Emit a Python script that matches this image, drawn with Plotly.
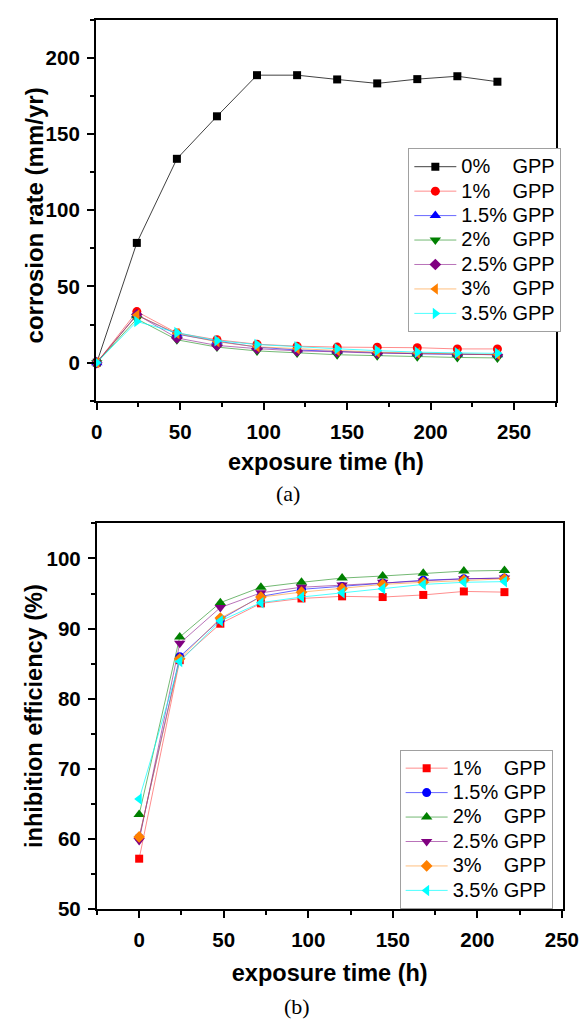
import plotly.graph_objects as go

# ---------------- data ----------------
time_a = [0, 24, 48, 72, 96, 120, 144, 168, 192, 216, 240]
labels = ["0%", "1%", "1.5%", "2%", "2.5%", "3%", "3.5%"]
cr_0 = [0, 78.6, 133.8, 161.7, 188.7, 188.7, 185.9, 183.3, 186.1, 188.0, 184.4]
cr_1 = [0, 33.5, 19.5, 15.0, 12.1, 10.8, 10.2, 10.1, 9.8, 9.0, 9.0]
cr_15 = [0, 31.3, 18.7, 14.1, 10.2, 8.3, 7.4, 6.4, 5.8, 5.5, 5.2]
cr_2 = [0, 28.7, 15.0, 10.2, 7.7, 6.4, 5.2, 4.6, 3.9, 3.4, 3.1]
cr_25 = [0, 31.6, 16.2, 11.3, 9.2, 7.7, 7.1, 6.2, 6.0, 5.5, 5.2]
cr_3 = [0, 31.2, 19.1, 13.7, 10.4, 9.1, 8.0, 6.8, 6.3, 5.8, 5.3]
cr_35 = [0, 27.0, 19.7, 14.4, 11.9, 10.4, 9.1, 7.9, 6.9, 6.4, 6.1]

time_b = [0, 24, 48, 72, 96, 120, 144, 168, 192, 216]
ie_1 = [57.2, 85.5, 90.7, 93.6, 94.3, 94.6, 94.5, 94.8, 95.3, 95.2]
ie_15 = [60.2, 86.0, 91.3, 94.6, 95.6, 96.0, 96.5, 96.9, 97.1, 97.2]
ie_2 = [63.5, 88.8, 93.7, 95.9, 96.6, 97.2, 97.5, 97.9, 98.2, 98.3]
ie_25 = [59.8, 87.9, 93.0, 95.1, 95.9, 96.2, 96.6, 96.8, 97.1, 97.2]
ie_3 = [60.3, 85.7, 91.5, 94.5, 95.2, 95.7, 96.3, 96.6, 96.9, 97.1]
ie_35 = [65.7, 85.3, 91.1, 93.7, 94.5, 95.1, 95.7, 96.3, 96.6, 96.7]

x_ticks = [0, 50, 100, 150, 200, 250]
y_ticks_a = [0, 50, 100, 150, 200]
y_ticks_b = [50, 60, 70, 80, 90, 100]

# ---------------- styles ----------------
NB = "\u00a0"
def lab(p):
    pad = 4 if len(p) == 2 else 1
    return "<span style='font-size:20px'>" + p + NB * pad + "GPP</span>"

colors = ["#000000", "#FF0000", "#0000FF", "#008000", "#800080", "#FF8000", "#00FFFF"]
line_cols = ["rgba(0,0,0,0.75)", "rgba(255,0,0,0.45)", "rgba(0,0,255,0.6)",
             "rgba(0,128,0,0.55)", "rgba(128,0,128,0.55)", "rgba(255,128,0,0.5)",
             "rgba(0,255,255,0.7)"]
sym_a = ["square", "circle", "triangle-up", "triangle-down", "diamond", "triangle-left", "triangle-right"]
size_a = [8, 9, 10, 10, 9, 10, 10]
sym_b = ["square", "circle", "triangle-up", "triangle-down", "diamond", "triangle-left"]
size_b = [8, 9, 10, 10, 9, 10]

FONT = "Liberation Sans, Arial, sans-serif"
SERIF = "Liberation Serif, Times New Roman, serif"

fig = go.Figure()

series_a = [cr_0, cr_1, cr_15, cr_2, cr_25, cr_3, cr_35]
for i, ys in enumerate(series_a):
    fig.add_trace(go.Scatter(
        x=time_a, y=ys, mode="lines+markers", name=lab(labels[i]),
        line=dict(color=line_cols[i], width=1),
        marker=dict(symbol=sym_a[i], size=size_a[i], color=colors[i], line=dict(width=0)),
        xaxis="x", yaxis="y", legend="legend", cliponaxis=False))

series_b = [ie_1, ie_15, ie_2, ie_25, ie_3, ie_35]
for i, ys in enumerate(series_b):
    fig.add_trace(go.Scatter(
        x=time_b, y=ys, mode="lines+markers", name=lab(labels[i + 1]),
        line=dict(color=line_cols[i + 1], width=1),
        marker=dict(symbol=sym_b[i], size=size_b[i], color=colors[i + 1], line=dict(width=0)),
        xaxis="x2", yaxis="y2", legend="legend2", cliponaxis=False))

W, H = 587, 1022
def px(p):
    return p / W
def py(p):
    return 1 - p / H

tickfont = dict(family=FONT, size=20.5, color="black", weight="bold")
def tfont(s):
    return dict(family=FONT, size=s, color="black", weight="bold")

def ax(**kw):
    d = dict(showline=True, linecolor="black", linewidth=2, mirror=True,
             ticks="outside", ticklen=7, tickwidth=2, tickcolor="black",
             showgrid=False, zeroline=False, tickfont=tickfont)
    d.update(kw)
    return d

minor_x = dict(ticks="outside", ticklen=4, tickwidth=2, tickcolor="black", dtick=25, tick0=0)

legend_style = dict(xanchor="left", yanchor="top", bgcolor="white",
                    bordercolor="#a0a0a0", borderwidth=1,
                    font=dict(family=FONT, size=16.5, color="black"),
                    tracegroupgap=0, itemwidth=42)

fig.update_layout(
    width=W, height=H,
    margin=dict(l=0, r=0, t=0, b=0),
    paper_bgcolor="white", plot_bgcolor="white",
    xaxis=ax(domain=[px(86), px(563)], range=[-0.5, 275], anchor="y",
             tickvals=x_ticks, minor=minor_x, ticklabelstandoff=5,
             title=dict(text="exposure time (h)", font=tfont(23.5), standoff=11)),
    yaxis=ax(domain=[py(397), py(12)], range=[-25, 225], anchor="x",
             tickvals=y_ticks_a, ticklabelstandoff=3,
             minor=dict(ticks="outside", ticklen=4, tickwidth=2, tickcolor="black", dtick=25, tick0=0)),
    xaxis2=ax(domain=[px(87), px(570)], range=[-25, 250.4], anchor="y2",
              tickvals=x_ticks, minor=minor_x, ticklabelstandoff=4,
              title=dict(text="exposure time (h)", font=tfont(23.5), standoff=15)),
    yaxis2=ax(domain=[py(911), py(521)], range=[50, 105], anchor="x2",
              tickvals=y_ticks_b, ticklabelstandoff=3,
              minor=dict(ticks="outside", ticklen=4, tickwidth=2, tickcolor="black", dtick=5, tick0=50)),
    legend=dict(x=px(410), y=py(142), **legend_style),
    legend2=dict(x=px(401), y=py(750), **legend_style),
    showlegend=True,
    annotations=[
        dict(text="corrosion rate (mm/yr)", x=px(22.5), y=py(210), xref="paper", yref="paper",
             textangle=-90, xanchor="center", yanchor="middle", showarrow=False,
             font=tfont(24)),
        dict(text="inhibition efficiency (%)", x=px(22.5), y=py(716), xref="paper", yref="paper",
             textangle=-90, xanchor="center", yanchor="middle", showarrow=False,
             font=tfont(23.5)),
        dict(text="(a)", x=px(285), y=py(491), xref="paper", yref="paper",
             xanchor="center", yanchor="middle",
             showarrow=False, font=dict(family=SERIF, size=22, color="black")),
        dict(text="(b)", x=px(295), y=py(1009.5), xref="paper", yref="paper",
             xanchor="center", yanchor="middle",
             showarrow=False, font=dict(family=SERIF, size=22, color="black")),
    ],
)

fig.write_html("out.html")
